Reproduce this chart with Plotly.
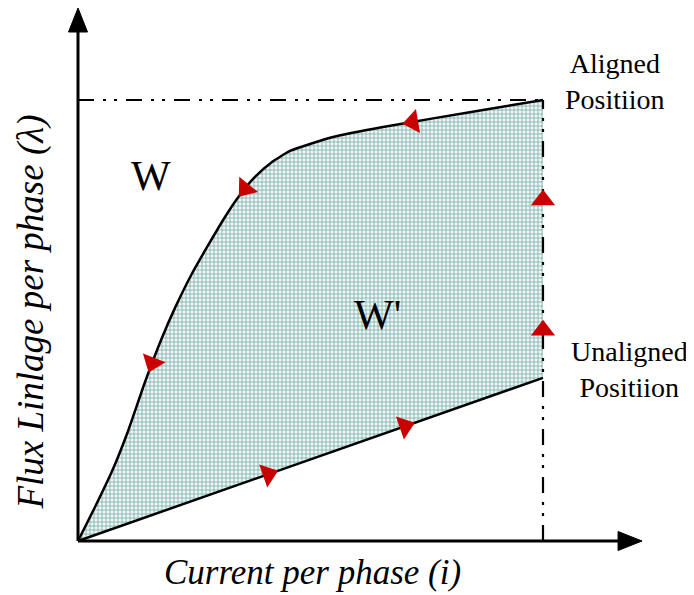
import numpy as np
import plotly.graph_objects as go

# ---- data (current in A, flux linkage normalised) ----
current_aligned = [0, 0.366, 0.731, 1.075, 1.441, 1.806, 2.086, 2.452, 2.796, 3.161,
                   3.441, 3.806, 4.172, 4.559, 4.989, 5.484, 6.559, 8.710, 10]
flux_aligned = [0, 0.0771, 0.158, 0.249, 0.3605, 0.4608, 0.5286, 0.6066, 0.6701, 0.7347,
                0.7789, 0.8254, 0.8594, 0.8844, 0.9002, 0.9161, 0.9388, 0.9773, 1.0]
current_unaligned = [0, 10]
flux_unaligned = [0, 0.37]
i_max = 10
flux_max = 1.0

arrows_aligned_i = [1.6, 3.6, 7.2]         # direction: towards origin
arrows_unaligned_i = [4.09, 7.03]          # direction: increasing current
arrows_vertical_flux = [0.478, 0.773]      # direction: up

X_AXIS_END = 12.13
Y_AXIS_END = 1.2086

# ---- layout geometry (page has an 8px body margin) ----
W, H = 686, 587
x_range = [-1.5054, 13.2473]
y_range = [-0.12245, 1.2086]
px_per_x = W / (x_range[1] - x_range[0])
px_per_y = H / (y_range[1] - y_range[0])


def screen_angle(dx, dy):
    sx = dx * px_per_x
    sy = -dy * px_per_y
    return float(np.degrees(np.arctan2(sx, -sy)))


def local_slope(xs, ys, x0, h=0.2):
    return (np.interp(x0 + h, xs, ys) - np.interp(x0 - h, xs, ys)) / (2 * h)


fig = go.Figure()

# fill between curves (hatched grid)
fig.add_trace(go.Scatter(x=current_unaligned, y=flux_unaligned, mode="lines",
                         line=dict(width=0, color="rgba(0,0,0,0)"), hoverinfo="skip"))
fig.add_trace(go.Scatter(x=current_aligned, y=flux_aligned, mode="lines",
                         line=dict(width=0, color="rgba(0,0,0,0)", shape="spline", smoothing=0.5),
                         fill="tonexty", fillcolor="#e6f2f1",
                         fillpattern=dict(shape="+", size=4, solidity=0.35,
                                          fgcolor="#74a9a7", bgcolor="#eef7f6",
                                          fillmode="replace"),
                         hoverinfo="skip"))

# dash-dot reference lines
dashdot = "16px,9px,3px,8px,3px,9px"
fig.add_trace(go.Scatter(x=[0, i_max], y=[flux_max, flux_max], mode="lines",
                         line=dict(color="black", width=2.2, dash=dashdot), hoverinfo="skip"))
fig.add_trace(go.Scatter(x=[i_max, i_max], y=[0, flux_max], mode="lines",
                         line=dict(color="black", width=2.2, dash=dashdot), hoverinfo="skip"))

# curves
fig.add_trace(go.Scatter(x=current_aligned, y=flux_aligned, mode="lines",
                         line=dict(color="black", width=2.5, shape="spline", smoothing=0.5),
                         hoverinfo="skip"))
fig.add_trace(go.Scatter(x=current_unaligned, y=flux_unaligned, mode="lines",
                         line=dict(color="black", width=2.5), hoverinfo="skip"))

# axes with filled arrowheads
head_len, head_half = 24, 9.5
xl = head_len / px_per_x
yl = head_len / px_per_y
fig.add_trace(go.Scatter(x=[0, X_AXIS_END - xl * 0.8], y=[0, 0], mode="lines",
                         line=dict(color="black", width=3), hoverinfo="skip"))
fig.add_trace(go.Scatter(x=[0, 0], y=[0, Y_AXIS_END - yl * 0.8], mode="lines",
                         line=dict(color="black", width=3), hoverinfo="skip"))
fig.add_trace(go.Scatter(
    x=[X_AXIS_END, X_AXIS_END - xl, X_AXIS_END - xl, X_AXIS_END],
    y=[0, head_half / px_per_y, -head_half / px_per_y, 0],
    mode="lines", fill="toself", fillcolor="black", line=dict(color="black", width=1),
    hoverinfo="skip"))
fig.add_trace(go.Scatter(
    x=[0, head_half / px_per_x, -head_half / px_per_x, 0],
    y=[Y_AXIS_END, Y_AXIS_END - yl, Y_AXIS_END - yl, Y_AXIS_END],
    mode="lines", fill="toself", fillcolor="black", line=dict(color="black", width=1),
    hoverinfo="skip"))

# red direction arrows
ax, ay, aang = [], [], []
for xi in arrows_aligned_i:
    yi = float(np.interp(xi, current_aligned, flux_aligned))
    s = local_slope(current_aligned, flux_aligned, xi)
    ax.append(xi); ay.append(yi); aang.append(screen_angle(-1, -s))
for xi in arrows_unaligned_i:
    yi = float(np.interp(xi, current_unaligned, flux_unaligned))
    s = local_slope(current_unaligned, flux_unaligned, xi)
    ax.append(xi); ay.append(yi); aang.append(screen_angle(1, s))
for yf in arrows_vertical_flux:
    ax.append(i_max); ay.append(yf); aang.append(0.0)
fig.add_trace(go.Scatter(x=ax, y=ay, mode="markers",
                         marker=dict(symbol="triangle-up", size=21, color="#c80000",
                                     angle=aang, line=dict(width=0)),
                         cliponaxis=False, hoverinfo="skip"))

serif = "Liberation Serif, Times New Roman, serif"
ann = [
    dict(x=1.57, y=0.828, text="W", font=dict(size=42)),
    dict(x=6.45, y=0.512, text="W'", font=dict(size=42)),
    dict(x=11.55, y=1.041, text="Aligned<br>Positiion", font=dict(size=28)),
    dict(x=11.87, y=0.388, text="Unaligned<br>Positiion", font=dict(size=28)),
    dict(x=5.05, y=-0.072, text="<i>Current per phase (i)</i>", font=dict(size=35)),
    dict(x=-1.0, y=0.519, text="<i>Flux Linlage per phase (λ)</i>", font=dict(size=37),
         textangle=-90),
]
for a in ann:
    a.update(xref="x", yref="y", showarrow=False)
    a["font"].update(family=serif, color="black")

fig.update_layout(
    width=W, height=H, autosize=False,
    margin=dict(l=0, r=0, t=0, b=0),
    paper_bgcolor="white", plot_bgcolor="white",
    showlegend=False,
    xaxis=dict(range=x_range, visible=False, fixedrange=True),
    yaxis=dict(range=y_range, visible=False, fixedrange=True),
    annotations=ann,
)
fig.write_html("out.html")
